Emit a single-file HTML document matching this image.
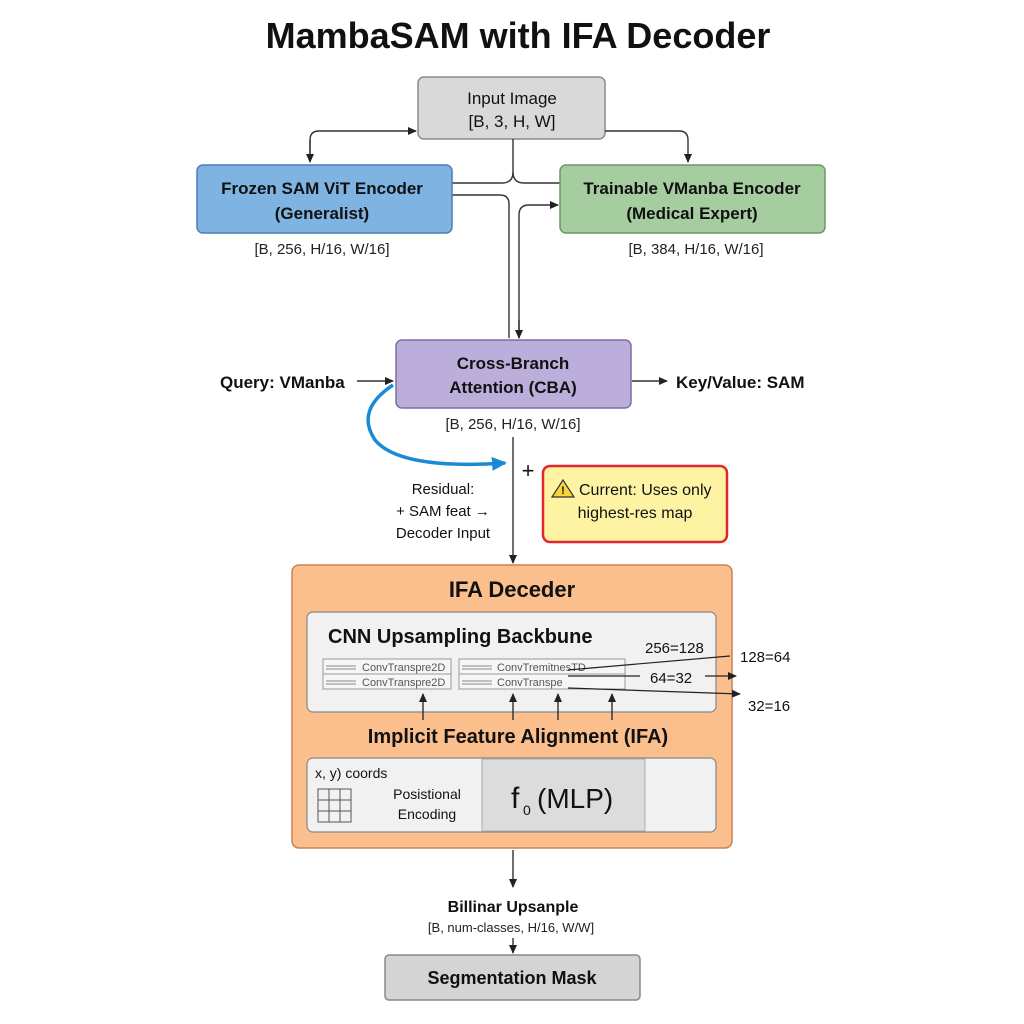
<!DOCTYPE html>
<html><head><meta charset="utf-8"><style>
html,body{margin:0;padding:0;background:#fff;}
svg{display:block;font-family:"Liberation Sans",Arial,sans-serif;}
</style></head><body>
<svg width="1024" height="1024" viewBox="0 0 1024 1024" xmlns="http://www.w3.org/2000/svg">
<defs>
<marker id="a" markerWidth="10" markerHeight="10" refX="8" refY="5" orient="auto" markerUnits="userSpaceOnUse"><path d="M0,1 L9,5 L0,9 z" fill="#222"/></marker>
<marker id="b" markerWidth="16" markerHeight="16" refX="13" refY="8" orient="auto" markerUnits="userSpaceOnUse"><path d="M0,1 L15,8 L0,15 z" fill="#1a8ad4"/></marker>
</defs>
<rect width="1024" height="1024" fill="#fff"/>
<text x="518" y="48" font-size="36" font-weight="bold" text-anchor="middle" fill="#111">MambaSAM with IFA Decoder</text>

<!-- Input -->
<rect x="418" y="77" width="187" height="62" rx="6" fill="#d9d9d9" stroke="#8a8a8a" stroke-width="1.5"/>
<text x="512" y="104" font-size="17" text-anchor="middle" fill="#111">Input Image</text>
<text x="512" y="127" font-size="17" text-anchor="middle" fill="#111">[B, 3, H, W]</text>

<g fill="none" stroke="#333" stroke-width="1.4">
<path d="M310,162 V140 Q310,131 319,131 H416" marker-end="url(#a)"/>
<path d="M310,140 V162" marker-end="url(#a)"/>
<path d="M605,131 H679 Q688,131 688,140 V162" marker-end="url(#a)"/>
<path d="M513,139 V172 Q513,183 502,183 H452"/>
<path d="M513,172 Q513,183 524,183 H560"/>
<path d="M452,195 H500 Q509,195 509,204 V338"/>
<path d="M519,338 V215 Q519,205 529,205 H558" marker-end="url(#a)"/>
<path d="M519,320 V338" marker-end="url(#a)"/>
</g>

<!-- encoders -->
<rect x="197" y="165" width="255" height="68" rx="6" fill="#7fb3e2" stroke="#4f7fae" stroke-width="1.5"/>
<text x="322" y="194" font-size="17" font-weight="bold" text-anchor="middle" fill="#111">Frozen SAM ViT Encoder</text>
<text x="322" y="219" font-size="17" font-weight="bold" text-anchor="middle" fill="#111">(Generalist)</text>
<text x="322" y="254" font-size="15" text-anchor="middle" fill="#222">[B, 256, H/16, W/16]</text>

<rect x="560" y="165" width="265" height="68" rx="6" fill="#a6cd9f" stroke="#6c9864" stroke-width="1.5"/>
<text x="692" y="194" font-size="17" font-weight="bold" text-anchor="middle" fill="#111">Trainable VManba Encoder</text>
<text x="692" y="219" font-size="17" font-weight="bold" text-anchor="middle" fill="#111">(Medical Expert)</text>
<text x="696" y="254" font-size="15" text-anchor="middle" fill="#222">[B, 384, H/16, W/16]</text>

<!-- CBA -->
<rect x="396" y="340" width="235" height="68" rx="6" fill="#bcaedb" stroke="#7e6ea0" stroke-width="1.5"/>
<text x="513" y="369" font-size="17" font-weight="bold" text-anchor="middle" fill="#111">Cross-Branch</text>
<text x="513" y="393" font-size="17" font-weight="bold" text-anchor="middle" fill="#111">Attention (CBA)</text>
<text x="220" y="388" font-size="17" font-weight="bold" fill="#111">Query: VManba</text>
<path d="M357,381 H393" stroke="#333" stroke-width="1.4" marker-end="url(#a)"/>
<path d="M632,381 H667" stroke="#333" stroke-width="1.4" marker-end="url(#a)"/>
<text x="676" y="388" font-size="17" font-weight="bold" fill="#111">Key/Value: SAM</text>
<text x="513" y="429" font-size="15" text-anchor="middle" fill="#222">[B, 256, H/16, W/16]</text>
<path d="M393,385 Q355,410 375,440 Q400,470 505,463" fill="none" stroke="#1a8ad4" stroke-width="3.5" marker-end="url(#b)"/>
<path d="M513,437 V563" stroke="#333" stroke-width="1.4" marker-end="url(#a)"/>
<text x="528" y="478" font-size="22" text-anchor="middle" fill="#111">+</text>
<text x="443" y="494" font-size="15" text-anchor="middle" fill="#111">Residual:</text>
<text x="443" y="516" font-size="15" text-anchor="middle" fill="#111">+ SAM feat →</text>
<text x="443" y="538" font-size="15" text-anchor="middle" fill="#111">Decoder Input</text>

<rect x="543" y="466" width="184" height="76" rx="7" fill="#fdf3a3" stroke="#e3262b" stroke-width="2.5"/>
<path d="M563,480 L552,497 H574 Z" fill="#f7d53a" stroke="#333" stroke-width="1.2"/>
<text x="563" y="494" font-size="11" font-weight="bold" text-anchor="middle" fill="#111">!</text>
<text x="579" y="495" font-size="16" fill="#111">Current: Uses only</text>
<text x="635" y="518" font-size="16" text-anchor="middle" fill="#111">highest-res map</text>

<!-- IFA -->
<rect x="292" y="565" width="440" height="283" rx="7" fill="#fbbe8d" stroke="#c98454" stroke-width="1.5"/>
<text x="512" y="597" font-size="22" font-weight="bold" text-anchor="middle" fill="#111">IFA Deceder</text>
<rect x="307" y="612" width="409" height="100" rx="6" fill="#f1f1f1" stroke="#888" stroke-width="1.2"/>
<text x="328" y="643" font-size="20" font-weight="bold" fill="#111">CNN Upsampling Backbune</text>
<text x="645" y="653" font-size="15" fill="#111">256=128</text>
<g stroke="#999" fill="#f6f6f6" stroke-width="1">
<rect x="323" y="659" width="128" height="15"/><rect x="323" y="674" width="128" height="15"/>
<rect x="459" y="659" width="166" height="15"/><rect x="459" y="674" width="166" height="15"/>
</g>
<g font-size="11" fill="#555">
<text x="362" y="671">ConvTranspre2D</text><text x="362" y="686">ConvTranspre2D</text>
<text x="497" y="671">ConvTremitnesTD</text><text x="497" y="686">ConvTranspe</text>
</g>
<g stroke="#888" stroke-width="1"><path d="M326,666 H356 M326,669 H356 M326,681 H356 M326,684 H356 M462,666 H492 M462,669 H492 M462,681 H492 M462,684 H492"/></g>
<g fill="none" stroke="#222" stroke-width="1.2">
<path d="M568,670 L730,656"/>
<path d="M568,676 H640 M705,676 H736" marker-end="url(#a)"/>
<path d="M568,688 L740,694" marker-end="url(#a)"/>
</g>
<text x="740" y="662" font-size="15" fill="#111">128=64</text>
<text x="650" y="683" font-size="15" fill="#111">64=32</text>
<text x="748" y="711" font-size="15" fill="#111">32=16</text>
<g stroke="#222" stroke-width="1.3">
<path d="M423,720 V694" marker-end="url(#a)"/><path d="M513,720 V694" marker-end="url(#a)"/>
<path d="M558,720 V694" marker-end="url(#a)"/><path d="M612,720 V694" marker-end="url(#a)"/>
</g>
<text x="518" y="743" font-size="20" font-weight="bold" text-anchor="middle" fill="#111">Implicit Feature Alignment (IFA)</text>

<rect x="307" y="758" width="409" height="74" rx="6" fill="#f1f1f1" stroke="#888" stroke-width="1.2"/>
<rect x="482" y="759" width="163" height="72" fill="#dcdcdc" stroke="#aaa"/>
<text x="315" y="778" font-size="14" fill="#111">x, y) coords</text>
<text x="427" y="799" font-size="14" text-anchor="middle" fill="#111">Posistional</text>
<text x="427" y="819" font-size="14" text-anchor="middle" fill="#111">Encoding</text>
<g stroke="#555" fill="none" stroke-width="1"><rect x="318" y="789" width="33" height="33"/><path d="M329,789 V822 M340,789 V822 M318,800 H351 M318,811 H351"/></g>
<text x="511" y="808" font-size="30" fill="#111">f</text>
<text x="523" y="815" font-size="14" fill="#111">0</text>
<text x="537" y="808" font-size="28" fill="#111">(MLP)</text>

<path d="M513,850 V887" stroke="#333" stroke-width="1.4" marker-end="url(#a)"/>
<text x="513" y="912" font-size="16" font-weight="bold" text-anchor="middle" fill="#111">Billinar Upsanple</text>
<text x="511" y="932" font-size="13" text-anchor="middle" fill="#222">[B, num-classes, H/16, W/W]</text>
<path d="M513,938 V953" stroke="#333" stroke-width="1.4" marker-end="url(#a)"/>
<rect x="385" y="955" width="255" height="45" rx="4" fill="#d4d4d4" stroke="#888" stroke-width="1.5"/>
<text x="512" y="984" font-size="18" font-weight="bold" text-anchor="middle" fill="#111">Segmentation Mask</text>
</svg>
</body></html>
